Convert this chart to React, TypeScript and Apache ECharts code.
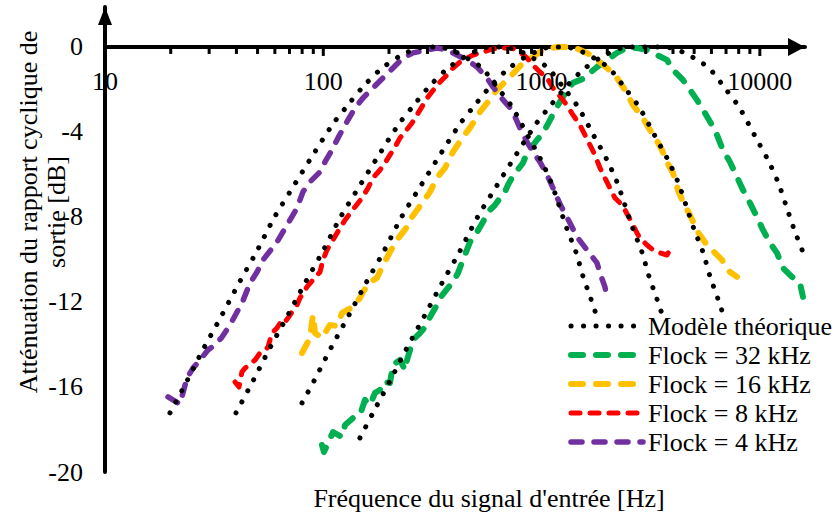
import React, { useEffect, useRef } from 'react';
import * as echarts from 'echarts';

const FONT = '"Liberation Serif", "Times New Roman", Times, serif';

// ---- axis ----
const X_MIN = 10;
const X_MAX = 16100;
const Y_MIN = -20;
const Y_MAX = 1.88;
const Y_INTERVAL = 4;
const xLabelValues = [10, 100, 1000, 10000];
const majorTicks = [100, 1000, 10000];
const minorTicks = [20, 30, 40, 50, 60, 70, 80, 90, 200, 300, 400, 500, 600, 700, 800, 900, 2000, 3000, 4000, 5000, 6000, 7000, 8000, 9000];

// ---- names ----
const MODEL_NAME = 'Modèle théorique';
const legendNames = [MODEL_NAME, 'Flock = 32 kHz', 'Flock = 16 kHz', 'Flock = 8 kHz', 'Flock = 4 kHz'];

// ---- theoretical model curves ----
const modelAF = [19.85, 23.74, 28.41, 34.36, 41.1, 49.7, 59.46, 72.65, 89.7, 110.8, 129.8, 152, 183.8, 229.4, 292.4, 331.7, 414, 469.9, 533.3, 624.7, 731.8, 866.4, 993.8, 1104, 1201, 1307, 1437, 1547, 1684, 1813];
const modelAdB = [-17.22, -15.72, -14.16, -12.61, -11.11, -9.6, -8.05, -6.59, -5.08, -3.62, -2.73, -1.88, -1.04, -0.38, 0, 0, -0.28, -0.61, -0.99, -1.88, -2.82, -4.19, -5.32, -6.35, -7.44, -8.56, -9.65, -10.78, -11.86, -12.85];

const modelBF = [39.82, 47.62, 56.99, 68.93, 82.45, 99.7, 119.3, 145.7, 179.9, 222.3, 260.4, 304.9, 368.7, 460.2, 586.6, 665.4, 830.5, 942.6, 1070, 1253, 1468, 1738, 1994, 2215, 2409, 2622, 2883, 3103, 3378, 3637];
const modelBdB = [-17.22, -15.72, -14.16, -12.61, -11.11, -9.6, -8.05, -6.59, -5.08, -3.62, -2.73, -1.88, -1.04, -0.38, 0, 0, -0.28, -0.61, -0.99, -1.88, -2.82, -4.19, -5.32, -6.35, -7.44, -8.56, -9.65, -10.78, -11.86, -12.85];

const modelCF = [79.9, 90.64, 108.5, 131.2, 156.9, 189.8, 227.0, 277.4, 342.5, 423.0, 495.6, 580.3, 701.8, 875.8, 1116, 1266, 1581, 1794, 2036, 2385, 2794, 3308, 3794, 4215, 4585, 4990, 5486, 5906, 6430, 6922];
const modelCdB = [-16.75, -15.72, -14.16, -12.61, -11.11, -9.6, -8.05, -6.59, -5.08, -3.62, -2.73, -1.88, -1.04, -0.38, 0, 0, -0.28, -0.61, -0.99, -1.88, -2.82, -4.19, -5.32, -6.35, -7.44, -8.56, -9.65, -10.78, -11.86, -12.85];

const modelDF = [147.2, 168.9, 202.0, 241.8, 292.4, 349.8, 423.0, 506.1, 618.3, 763.4, 943.0, 1105, 1294, 1564, 1952, 2489, 3635, 4537, 5150, 5845, 6847, 8021, 9496, 10892, 12100, 13163, 14325, 15750, 16100];
const modelDdB = [-18.4, -17.22, -15.72, -14.16, -12.61, -11.11, -9.6, -8.05, -6.59, -5.08, -3.62, -2.73, -1.88, -1.04, -0.38, 0, 0, -0.28, -0.61, -0.99, -1.88, -2.82, -4.19, -5.32, -6.35, -7.44, -8.56, -9.65, -9.9];

// ---- measured: Flock = 4 kHz ----
const f4F = [19.44, 22.06, 23.74, 25.3, 27.24, 29.63, 31.91, 34.36, 37.38, 40.25, 42.43, 46.15, 49.7, 52.96, 57, 61.37, 68.2, 75.8, 80.7, 86.9, 96.6, 101.8, 109.6, 116.8, 125.8, 139.7, 152, 168.9, 187.7, 208.6, 231.8, 257.6, 298.5, 331.7, 368.6, 409.7, 455.3, 506, 562, 599, 666, 732, 796, 857, 913, 983, 1059, 1128, 1214, 1349, 1453, 1614, 1794, 1851, 1951, 1994];
const f4dB = [-16.47, -16.8, -15.58, -15.11, -14.73, -14.26, -14.02, -13.65, -13.08, -12.47, -12.05, -11.11, -10.59, -10.02, -9.6, -9.18, -8.38, -7.58, -6.82, -6.35, -5.88, -5.41, -4.85, -4.28, -3.67, -2.87, -2.4, -1.93, -1.46, -0.99, -0.52, -0.28, -0.14, -0.05, -0.14, -0.38, -0.61, -0.94, -1.46, -1.88, -2.49, -2.96, -3.81, -4.47, -4.94, -5.41, -6.02, -6.64, -7.39, -8.28, -8.94, -9.55, -10.16, -10.64, -11.29, -11.76];

// ---- measured: Flock = 8 kHz ----
const f8F = [39.4, 41.1, 42.4, 43.8, 48.7, 51.3, 54.1, 55.8, 58.2, 61.4, 64.7, 66.8, 68.9, 75.8, 78.2, 84.2, 89.7, 96.6, 99.7, 104, 119.3, 125.8, 139.7, 150.4, 160.3, 168.9, 181.9, 191.7, 202.1, 213.1, 224.6, 236.8, 254.9, 268.7, 286.3, 301.8, 324.9, 342.4, 368.6, 392.7, 422.9, 455.3, 485, 539, 599, 665.7, 731.8, 796, 857, 913, 983, 1059, 1128, 1253, 1321, 1393, 1499, 1580, 1666, 1757, 1851, 1951, 2057, 2169, 2287, 2410, 2595, 2735, 2823, 3040, 3239, 3486, 3753, 3875];
const f8dB = [-15.76, -16, -15.29, -15.11, -14.73, -14.4, -14.26, -14.12, -13.46, -13.22, -12.85, -12.94, -12.75, -12.14, -11.81, -11.29, -10.96, -10.59, -10.02, -9.55, -8.52, -8.14, -7.53, -7.11, -6.64, -6.16, -5.79, -5.46, -5.08, -4.71, -4.28, -4, -3.58, -3.2, -2.73, -2.35, -1.93, -1.65, -1.32, -0.99, -0.71, -0.52, -0.38, -0.24, -0.09, -0.05, -0.05, -0.24, -0.52, -0.85, -1.18, -1.46, -1.93, -2.49, -2.82, -3.2, -3.67, -4.14, -4.61, -5.08, -5.69, -6.16, -6.64, -7.11, -7.34, -7.67, -8.28, -8.75, -8.99, -9.32, -9.55, -9.69, -9.79, -9.55];

// ---- measured: Flock = 16 kHz ----
const f16F = [79.9, 86.9, 89.7, 91.6, 98.6, 107.3, 115.6, 121.8, 128.4, 136.8, 147.3, 152, 163.7, 176.2, 187.7, 202.1, 217.6, 241.8, 254.9, 286.2, 308.2, 331.7, 361, 392.7, 436.4, 469.9, 522.2, 568.2, 624.7, 716.7, 821.9, 913.3, 1015, 1176, 1392, 1614, 1794, 1994, 2215, 2410, 2623, 2914, 3138, 3307, 3561, 3753, 3999, 4215, 4442, 4784, 5205, 5723, 6228, 6706, 7295, 7857];
const f16dB = [-14.4, -13.69, -12.61, -13.46, -13.69, -13.08, -13.13, -12.52, -12.38, -12.24, -11.81, -11.53, -11.06, -10.87, -10.26, -9.65, -9.08, -8.47, -8, -7.29, -6.82, -6.16, -5.69, -4.94, -4.24, -3.81, -3.06, -2.59, -2.02, -1.41, -0.75, -0.47, -0.14, 0, 0, -0.28, -0.61, -0.99, -1.46, -2.02, -2.73, -3.34, -3.91, -4.24, -4.85, -5.41, -5.93, -6.73, -7.29, -7.91, -8.71, -9.32, -9.69, -10.02, -10.59, -10.82];

// ---- measured: Flock = 32 kHz ----
const f32F = [98.6, 100.7, 110.8, 121.8, 125.8, 136.8, 147.3, 155.2, 163.7, 172.5, 181.9, 187.7, 202.1, 208.6, 224.6, 236.8, 241.8, 249.6, 257.6, 277.3, 298.5, 308.2, 331.7, 342.4, 372.6, 392.7, 414, 436.4, 469.9, 506, 539, 568.2, 611.7, 644.8, 679.6, 701.8, 739.6, 821.9, 857.5, 952.6, 1015, 1093, 1176, 1253, 1392, 1580, 1666, 1794, 1994, 2215, 2462, 2735, 3040, 3378, 3753, 3999, 4442, 4784, 5151, 5604, 6033, 6360, 6776, 7295, 7857, 8369, 9010, 9698, 10333, 11126, 11979, 12760, 14036, 15265, 15758];
const f32dB = [-18.73, -19.06, -18.12, -18.35, -17.79, -17.46, -17.32, -16.61, -16.85, -16.28, -16.14, -15.76, -15.81, -14.96, -14.73, -15.2, -14.73, -14.26, -13.79, -13.46, -13.08, -12.71, -12.14, -11.81, -11.34, -11.06, -10.64, -10.02, -9.18, -8.71, -8.24, -7.76, -7.44, -7.11, -6.82, -6.49, -6.07, -5.46, -4.99, -4.38, -4.05, -3.44, -2.82, -2.35, -1.69, -1.46, -1.22, -0.94, -0.61, -0.28, -0.05, -0.05, -0.14, -0.38, -0.61, -1.08, -1.55, -2.02, -2.49, -3.11, -3.67, -4.14, -4.85, -5.41, -6.12, -6.73, -7.34, -8, -8.61, -9.22, -9.69, -10.4, -10.82, -11.11, -11.76];

const zip = (xs: number[], ys: number[]) => xs.map((x, i) => [x, ys[i]]);

export default function App() {
  const ref = useRef<HTMLDivElement>(null);

  useEffect(() => {
    if (!ref.current) return;
    const chart = echarts.init(ref.current, null, { renderer: 'svg' });

    const modelStyle = { color: '#000', width: 5, type: [0.1, 12.4], cap: 'round' };
    const modelSeries = [
      [modelAF, modelAdB],
      [modelBF, modelBdB],
      [modelCF, modelCdB],
      [modelDF, modelDdB],
    ].map(([f, d]) => ({
      name: MODEL_NAME,
      type: 'line',
      data: zip(f, d),
      symbol: 'none',
      showSymbol: false,
      smooth: 0.3,
      color: '#000',
      lineStyle: modelStyle,
      z: 4,
    }));

    const measured = [
      { name: 'Flock = 32 kHz', f: f32F, d: f32dB, color: '#00B050', width: 6, dash: [12, 13] },
      { name: 'Flock = 16 kHz', f: f16F, d: f16dB, color: '#FFC000', width: 6, dash: [12, 13] },
      { name: 'Flock = 8 kHz', f: f8F, d: f8dB, color: '#FF0000', width: 5, dash: [9, 10] },
      { name: 'Flock = 4 kHz', f: f4F, d: f4dB, color: '#7030A0', width: 5.5, dash: [11, 12] },
    ].map((s) => ({
      name: s.name,
      type: 'line',
      data: zip(s.f, s.d),
      symbol: 'none',
      showSymbol: false,
      color: s.color,
      lineStyle: { color: s.color, width: s.width, type: s.dash, cap: 'round', join: 'round' },
      z: 3,
    }));

    // kind: 0 = minor tick, 1 = major tick, 2 = label
    const tickData = [
      ...minorTicks.map((v) => [v, 0, 0]),
      ...majorTicks.map((v) => [v, 0, 1]),
      ...xLabelValues.map((v) => [v, 0, 2]),
    ];

    chart.setOption({
      animation: false,
      backgroundColor: '#fff',
      grid: { left: 105, right: 31, top: 7, bottom: 45, containLabel: false },
      xAxis: {
        type: 'log',
        logBase: 10,
        min: X_MIN,
        max: X_MAX,
        axisLine: {
          show: true,
          onZero: true,
          symbol: ['none', 'triangle'],
          symbolSize: [18, 17],
          symbolOffset: [0, -8.5],
          lineStyle: { color: '#000', width: 4 },
        },
        axisTick: { show: false },
        minorTick: { show: false },
        splitLine: { show: false },
        axisLabel: { show: false },
      },
      yAxis: {
        type: 'value',
        min: Y_MIN,
        max: Y_MAX,
        interval: Y_INTERVAL,
        axisLine: {
          show: true,
          onZero: false,
          symbol: ['none', 'triangle'],
          symbolSize: [14, 18],
          symbolOffset: [0, -9],
          lineStyle: { color: '#000', width: 4 },
        },
        axisTick: { show: false },
        splitLine: { show: false },
        axisLabel: {
          margin: 22,
          fontSize: 26,
          fontFamily: FONT,
          color: '#000',
          formatter: (v: number) => (Math.abs(v % Y_INTERVAL) < 1e-6 ? String(Math.round(v)) : ''),
        },
      },
      legend: {
        orient: 'vertical',
        left: 566,
        top: 308,
        itemWidth: 72,
        itemHeight: 14,
        itemGap: 3,
        padding: [5, 0, 5, 2],
        backgroundColor: '#fff',
        selectedMode: false,
        textStyle: { fontSize: 26, fontFamily: FONT, color: '#000', lineHeight: 26 },
        lineStyle: { width: 'inherit' },
        itemStyle: { opacity: 0 },
        data: legendNames,
      },
      graphic: [
        {
          type: 'text',
          x: 28,
          y: 212,
          rotation: Math.PI / 2,
          style: {
            text: 'Atténuation du rapport cyclique de',
            fontSize: 26,
            fontFamily: FONT,
            fill: '#000',
            align: 'center',
            verticalAlign: 'middle',
            textAlign: 'center',
            textVerticalAlign: 'middle',
          },
        },
        {
          type: 'text',
          x: 56,
          y: 212,
          rotation: Math.PI / 2,
          style: {
            text: 'sortie [dB]',
            fontSize: 26,
            fontFamily: FONT,
            fill: '#000',
            align: 'center',
            verticalAlign: 'middle',
            textAlign: 'center',
            textVerticalAlign: 'middle',
          },
        },
        {
          type: 'text',
          x: 489,
          y: 498,
          style: {
            text: "Fréquence du signal d'entrée [Hz]",
            fontSize: 26,
            fontFamily: FONT,
            fill: '#000',
            align: 'center',
            verticalAlign: 'middle',
            textAlign: 'center',
            textVerticalAlign: 'middle',
          },
        },
      ],
      series: [
        ...measured,
        ...modelSeries,
        {
          type: 'custom',
          coordinateSystem: 'cartesian2d',
          silent: true,
          clip: false,
          z: 5,
          encode: { x: 0, y: 1 },
          data: tickData,
          renderItem: (params: any, api: any) => {
            const v = api.value(0);
            const kind = api.value(2);
            const p = api.coord([v, 0]);
            if (kind === 2) {
              return {
                type: 'text',
                x: p[0],
                y: p[1] + 22,
                z2: 1,
                style: {
                  text: String(Math.round(v)),
                  fontSize: 26,
                  fontFamily: FONT,
                  fill: '#000',
                  align: 'center',
                  verticalAlign: 'top',
                },
              };
            }
            const len = kind === 1 ? 9 : 7;
            return {
              type: 'line',
              shape: { x1: p[0], y1: p[1], x2: p[0], y2: p[1] + len },
              style: { stroke: '#000', lineWidth: 3 },
            };
          },
        },
      ],
    });

    return () => chart.dispose();
  }, []);

  return (
    <div
      ref={ref}
      style={{ position: 'fixed', left: 0, top: 0, width: 836, height: 517, background: '#fff' }}
    />
  );
}
